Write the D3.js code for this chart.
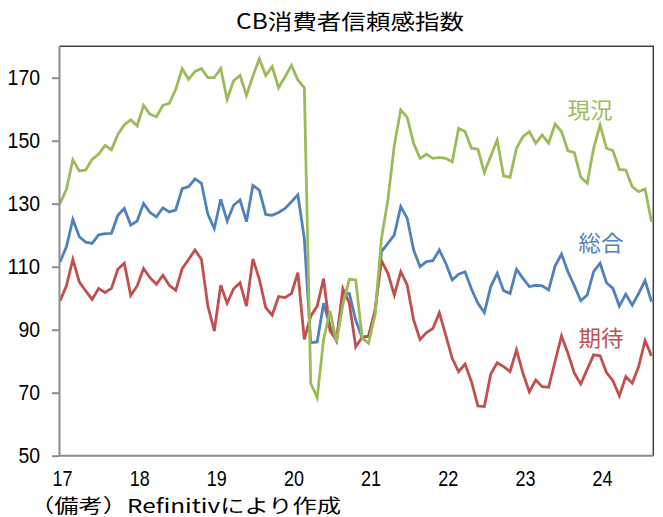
<!DOCTYPE html>
<html><head><meta charset="utf-8">
<script src="https://cdn.jsdelivr.net/npm/d3@7"></script>
<style>
html,body{margin:0;padding:0;background:#fff;}
svg{display:block;}
</style></head>
<body>
<svg id="chart" width="663" height="517"></svg>
<script>
// ---- data (monthly, Jan 2017 - Sep 2024) ----
const years = ["17","18","19","20","21","22","23","24"];
const yTicks = [50,70,90,110,130,150,170];

const present = [
 130.0,134.6,143.9,140.4,140.7,144.1,145.7,148.5,147.1,152.0,155.1,156.6,
 154.7,161.2,158.4,157.6,161.2,161.9,166.3,172.9,169.5,172.0,172.9,170.0,
 170.0,172.9,163.1,169.0,170.7,164.4,170.5,176.0,170.7,173.5,166.8,170.3,
 173.9,169.3,166.8,73.0,68.4,86.9,95.9,86.0,98.0,106.0,105.8,87.3,
 85.7,94.7,119.0,131.2,148.6,159.8,157.4,149.2,144.4,145.7,144.4,144.7,
 144.4,143.3,153.9,152.9,147.6,147.3,139.9,145.1,150.2,138.8,138.4,147.6,
 151.3,152.9,149.2,151.8,149.2,155.3,152.9,146.8,146.2,138.4,136.5,147.6,
 155.0,147.6,146.8,140.9,140.7,135.4,133.8,134.7,124.3
];
const total = [
 111.5,116.3,125.0,119.5,117.8,117.4,120.1,120.5,120.6,126.3,128.5,123.2,
 124.5,130.1,127.2,125.8,128.7,127.4,128.0,134.8,135.4,137.9,136.5,126.6,
 122.1,131.4,124.5,129.5,131.2,124.3,135.8,134.3,126.6,126.3,127.2,128.5,
 130.6,132.8,118.9,85.9,86.1,98.4,91.0,86.5,101.3,101.5,93.0,87.5,
 88.0,95.2,114.8,117.4,120.1,129.1,125.4,115.3,110.0,111.6,111.9,115.3,
 111.1,105.8,107.6,108.4,102.9,98.4,95.4,103.7,107.9,102.4,101.5,109.2,
 106.3,103.7,104.1,103.9,102.6,110.2,114.0,108.4,103.9,99.2,101.0,108.4,
 111.1,104.9,103.1,97.5,101.3,97.8,101.5,105.6,98.9
];
const expect = [
 99.1,103.9,112.3,105.2,102.3,99.6,103.1,101.8,103.1,109.2,111.1,100.9,
 103.9,109.4,106.5,104.4,107.3,104.1,102.5,109.4,112.3,115.3,112.3,97.5,
 89.6,104.1,98.4,103.0,104.9,97.5,112.5,106.0,97.0,94.6,100.5,100.2,
 101.5,108.1,86.9,94.3,97.5,106.2,89.6,86.7,103.0,98.4,84.6,87.6,
 88.0,96.3,111.9,107.9,101.0,108.4,104.2,93.1,86.9,89.1,90.4,95.4,
 88.3,80.9,76.7,79.1,73.5,65.8,65.6,75.9,79.5,78.3,76.7,83.6,
 76.2,70.3,74.0,71.9,71.7,79.9,88.0,82.5,76.2,72.8,77.4,82.0,
 81.7,76.4,73.8,69.0,75.1,73.0,78.3,86.5,81.7
];
const seriesNames = ["総合","期待","現況"];

// ---- layout ----
const svg = d3.select("#chart");
const L = 59.5, R = 653.3, T = 46.2, B = 455.7;
const x = d3.scaleLinear().domain([0, present.length - 1]).range([L + 0.5, 651.5]);
const y = d3.scaleLinear().domain([50, 180]).range([B, T]);

const cGreen = "#9BBB59", cBlue = "#4F81BD", cRed = "#C0504D";

// title
svg.append("text")
  .attr("x", 350).attr("y", 29)
  .attr("text-anchor", "middle")
  .attr("font-family", "'Noto Sans CJK JP', sans-serif")
  .attr("font-size", 21)
  .attr("textLength", 228).attr("lengthAdjust", "spacingAndGlyphs")
  .attr("fill", "#000")
  .text("CB消費者信頼感指数");

// plot frame (top/right)
svg.append("path")
  .attr("d", `M${L},${T}H${R}V${B}`)
  .attr("fill", "none").attr("stroke", "#404040").attr("stroke-width", 1.5);

// series lines
const line = d3.line().x((d, i) => x(i)).y(d => y(d));
[[total, cBlue], [expect, cRed], [present, cGreen]].forEach(([data, col]) => {
  svg.append("path")
    .datum(data)
    .attr("d", line)
    .attr("fill", "none")
    .attr("stroke", col)
    .attr("stroke-width", 2.8)
    .attr("stroke-linejoin", "miter");
});

// y axis
const yAxis = svg.append("g")
  .attr("transform", `translate(${L},0)`)
  .call(d3.axisLeft(y).tickValues(yTicks).tickSize(7.5).tickPadding(12).tickFormat(d3.format("d")));
yAxis.select(".domain").attr("d", `M0,${T}V${B}`).attr("stroke", "#8c8c8c").attr("stroke-width", 2);
yAxis.selectAll(".tick line").attr("stroke", "#8c8c8c").attr("stroke-width", 2);
yAxis.selectAll(".tick text")
  .attr("font-family", "'Liberation Sans', Arial, sans-serif")
  .attr("font-size", 22).attr("fill", "#000")
  .attr("textLength", d => String(d).length * 10.8)
  .attr("lengthAdjust", "spacingAndGlyphs");

// x axis
const xAxis = svg.append("g")
  .attr("transform", `translate(0,${B})`)
  .call(d3.axisBottom(x).tickValues(years.map((d, k) => k * 12)).tickSize(0).tickPadding(15)
    .tickFormat((d, k) => years[k]));
xAxis.select(".domain").attr("d", `M${L},0H${R}`).attr("stroke", "#8c8c8c").attr("stroke-width", 2);
xAxis.selectAll(".tick text")
  .attr("dx", 2)
  .attr("font-family", "'Liberation Sans', Arial, sans-serif")
  .attr("font-size", 22).attr("fill", "#000")
  .attr("textLength", 20)
  .attr("lengthAdjust", "spacingAndGlyphs");

// series labels
const labels = [
  {t: "現況", x: 590, y: 108, c: cGreen},
  {t: "総合", x: 601, y: 241, c: cBlue},
  {t: "期待", x: 601, y: 336, c: cRed}
];
labels.forEach(l => {
  svg.append("text")
    .attr("x", l.x).attr("y", l.y)
    .attr("text-anchor", "middle").attr("dominant-baseline", "central")
    .attr("font-family", "'Noto Sans CJK JP', sans-serif")
    .attr("font-size", 22)
    .attr("textLength", 45).attr("lengthAdjust", "spacingAndGlyphs")
    .attr("fill", l.c)
    .text(l.t);
});

// footnote
svg.append("text")
  .attr("x", 30).attr("y", 513)
  .attr("font-family", "'Noto Sans CJK JP', sans-serif")
  .attr("font-size", 19)
  .attr("textLength", 311).attr("lengthAdjust", "spacingAndGlyphs")
  .attr("fill", "#000")
  .text("（備考）Refinitivにより作成");
</script>
</body></html>
